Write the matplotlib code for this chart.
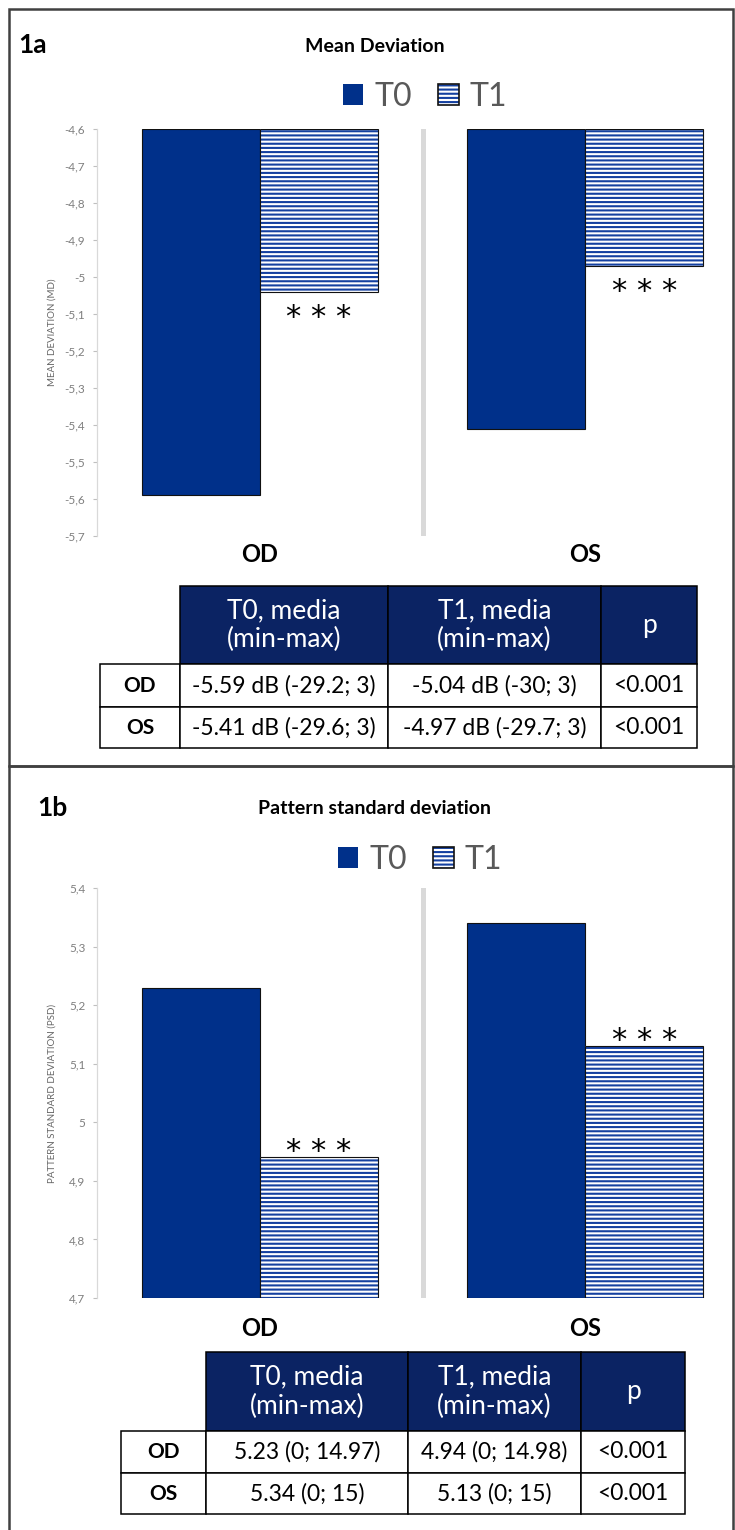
import numpy as np
import matplotlib
matplotlib.use('Agg')
import matplotlib.pyplot as plt
from matplotlib.patches import Patch, Rectangle
from matplotlib.legend_handler import HandlerTuple

plt.rcParams['font.family'] = ['Lato', 'DejaVu Sans']
plt.rcParams['hatch.linewidth'] = 1.5

# data
eyes = ['OD', 'OS']
series = ['T0', 'T1']

md_t0 = [-5.59, -5.41]
md_t1 = [-5.04, -4.97]
md_ticks = [-4.6, -4.7, -4.8, -4.9, -5.0, -5.1, -5.2, -5.3, -5.4, -5.5, -5.6, -5.7]

psd_t0 = [5.23, 5.34]
psd_t1 = [4.94, 5.13]
psd_ticks = [4.7, 4.8, 4.9, 5.0, 5.1, 5.2, 5.3, 5.4]

signif = ['***', '***']

table_header = ['', 'T0, media\n(min-max)', 'T1, media\n(min-max)', 'p']
md_rows = [['OD', '-5.59 dB (-29.2; 3)', '-5.04 dB (-30; 3)', '<0.001'],
           ['OS', '-5.41 dB (-29.6; 3)', '-4.97 dB (-29.7; 3)', '<0.001']]
psd_rows = [['OD', '5.23 (0; 14.97)', '4.94 (0; 14.98)', '<0.001'],
            ['OS', '5.34 (0; 15)', '5.13 (0; 15)', '<0.001']]

# styles
W, H = 735, 1530
T0_BLUE = '#00308a'
HATCH_BLUE = '#1440a0'
NAVY = '#0b2363'
EDGE = '#111111'

fig = plt.figure(figsize=(W / 100, H / 100), dpi=100)


def rect(x0, y0, x1, y1):
    # pixel box -> figure fraction
    return [x0 / W, 1 - y1 / H, (x1 - x0) / W, (y1 - y0) / H]


def draw_chart(ax, t0, t1, base, ticks, ylim, ylabel, star_below, xpad):
    x = np.arange(len(eyes))
    w = 0.363
    t0 = np.array(t0)
    t1 = np.array(t1)
    ax.axvline(0.5, color='#d9d9d9', linewidth=3.6, zorder=0)
    ax.bar(x - w / 2, t0 - base, w, bottom=base, color=T0_BLUE,
           edgecolor=EDGE, linewidth=0.8, zorder=2)
    ax.bar(x + w / 2, t1 - base, w, bottom=base, color='white',
           edgecolor=HATCH_BLUE, hatch='----', linewidth=0, zorder=2)
    ax.bar(x + w / 2, t1 - base, w, bottom=base, fill=False,
           edgecolor=EDGE, linewidth=0.8, zorder=3)
    for xi, v, s in zip(x + w / 2, t1, signif):
        if star_below:
            ax.annotate(' '.join(s), (xi, v), xytext=(0, -8), textcoords='offset points',
                        ha='center', va='top', fontsize=22, family='DejaVu Sans')
        else:
            ax.annotate(' '.join(s), (xi, v), xytext=(0, -2), textcoords='offset points',
                        ha='center', va='baseline', fontsize=22, family='DejaVu Sans')
    ax.set_xlim(-0.5, 1.5)
    ax.set_ylim(*ylim)
    ax.set_yticks(ticks, labels=[f'{t:g}'.replace('.', ',') for t in ticks])
    ax.set_xticks(x, eyes, fontweight='bold', fontsize=17)
    ax.tick_params(axis='x', length=0, pad=xpad)
    ax.tick_params(axis='y', labelcolor='#7f7f7f', color='#bfbfbf', length=3,
                   width=0.8, pad=5.5, labelsize=8.5)
    for side in ['top', 'right', 'bottom']:
        ax.spines[side].set_visible(False)
    ax.spines['left'].set_color('#d9d9d9')
    ax.spines['left'].set_linewidth(0.9)
    ax.set_ylabel(ylabel, fontsize=7, color='#666666')
    ax.yaxis.set_label_coords((57 - 97) / 651, 0.5)


def draw_legend(cx, cy):
    h0 = Patch(facecolor=T0_BLUE, edgecolor=T0_BLUE, linewidth=0)
    h1 = (Patch(facecolor='white', edgecolor=HATCH_BLUE, hatch='----', linewidth=0),
          Patch(fill=False, edgecolor=EDGE, linewidth=1.2))
    fig.legend([h0, h1], series, loc='center', bbox_to_anchor=(cx / W, 1 - cy / H),
               ncol=2, frameon=False, fontsize=23, handlelength=0.65, handleheight=0.65,
               handletextpad=0.35, columnspacing=0.8, labelcolor='#595959',
               handler_map={tuple: HandlerTuple(ndivide=1, pad=0)})


def draw_table(box, rows, col_w, row_h):
    tax = fig.add_axes(box)
    tax.axis('off')
    tbl = tax.table(cellText=[table_header] + rows, colWidths=col_w,
                    bbox=[0, 0, 1, 1], cellLoc='center')
    tbl.auto_set_font_size(False)
    for (r, c), cell in tbl.get_celld().items():
        cell.set_height(row_h[r])
        cell.set_edgecolor('black')
        cell.set_linewidth(1.1)
        txt = cell.get_text()
        if r == 0:
            if c == 0:
                cell.visible_edges = 'open'
                cell.set_facecolor('none')
            else:
                cell.set_facecolor(NAVY)
                txt.set_color('white')
                txt.set_fontsize(19)
                txt.set_linespacing(1.2)
        elif c == 0:
            txt.set_fontweight('bold')
            txt.set_fontsize(15)
        else:
            txt.set_fontsize(16.5)


# panel frames
for y0, y1 in [(9, 766), (766, 1560)]:
    fig.add_artist(Rectangle((9 / W, 1 - y1 / H), (733 - 9) / W, (y1 - y0) / H,
                             transform=fig.transFigure, fill=False,
                             edgecolor='#404040', linewidth=1.8))

# 1a Mean Deviation
fig.text(18 / W, 1 - 45 / H, '1a', ha='left', va='center', fontsize=19, fontweight='bold')
fig.text(375 / W, 1 - 47 / H, 'Mean Deviation', ha='center', va='center',
         fontsize=14, fontweight='bold')
draw_legend(425, 97)
ax1 = fig.add_axes(rect(97, 129, 748, 536))
draw_chart(ax1, md_t0, md_t1, -4.6, md_ticks, (-5.7, -4.6), 'MEAN DEVIATION (MD)',
           star_below=True, xpad=5)
draw_table(rect(100, 586, 697, 748), md_rows, [80, 208, 213, 96], [78, 43, 41])

# 1b Pattern standard deviation
fig.text(37 / W, 1 - 808 / H, '1b', ha='left', va='center', fontsize=19, fontweight='bold')
fig.text(375 / W, 1 - 808 / H, 'Pattern standard deviation', ha='center', va='center',
         fontsize=14, fontweight='bold')
draw_legend(420, 860)
ax2 = fig.add_axes(rect(97, 888, 748, 1298))
draw_chart(ax2, psd_t0, psd_t1, 4.7, psd_ticks, (4.7, 5.4),
           'PATTERN STANDARD DEVIATION (PSD)', star_below=False, xpad=14)
draw_table(rect(121, 1352, 685, 1514), psd_rows, [85, 202, 173, 104], [79, 42, 41])

fig.savefig('out.png', dpi=100)
